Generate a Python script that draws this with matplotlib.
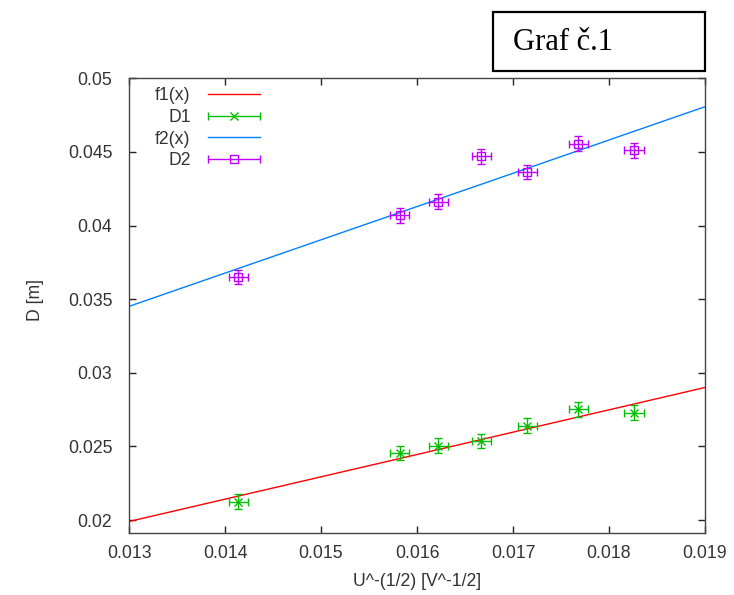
import numpy as np
import matplotlib
matplotlib.use("Agg")
import matplotlib.pyplot as plt
from matplotlib.patches import Rectangle
from matplotlib.legend_handler import HandlerErrorbar

# ---- data ----
x_vals = [0.01414, 0.01582, 0.01622, 0.01667, 0.01715, 0.01768, 0.01826]
d1_vals = [0.02124, 0.02456, 0.02504, 0.02536, 0.02642, 0.02751, 0.02728]
d2_vals = [0.03651, 0.04070, 0.04163, 0.04470, 0.04364, 0.04557, 0.04511]
x_err = 0.0001
y_err = 0.0005

# fitted lines f(x) = a*x + b
f1_a, f1_b = 1.517, 0.0199 - 1.517 * 0.013
f2_a, f2_b = 2.26, 0.03451 - 2.26 * 0.013

x_ticks = [0.013, 0.014, 0.015, 0.016, 0.017, 0.018, 0.019]
y_ticks = [0.02, 0.025, 0.03, 0.035, 0.04, 0.045, 0.05]

RED = "#ff0000"
GREEN = "#00c000"
BLUE = "#0080ff"
PURPLE = "#c000ff"

plt.rcParams["font.family"] = ["Liberation Sans", "DejaVu Sans"]

fig = plt.figure(figsize=(7.34, 5.95), dpi=100)
ax = fig.add_axes([129 / 734, 1 - 533 / 595, (705 - 129) / 734, (533 - 78.3) / 595])

xs = np.linspace(0.013, 0.019, 200)
l1, = ax.plot(xs, f1_a * xs + f1_b, color=RED, lw=1.0, label="f1(x)")
e1 = ax.errorbar(x_vals, d1_vals, xerr=x_err, yerr=y_err, fmt="x", color=GREEN,
                 ms=5.5, mew=1.0, elinewidth=1.0, capsize=2.6, capthick=1.0)
l2, = ax.plot(xs, f2_a * xs + f2_b, color=BLUE, lw=1.0, label="f2(x)")
e2 = ax.errorbar(x_vals, d2_vals, xerr=x_err, yerr=y_err, fmt="s", color=PURPLE,
                 mfc="none", ms=5.5, mew=1.0, elinewidth=1.0, capsize=2.6, capthick=1.0)

# legend proxies (horizontal bar only, like gnuplot)
p1 = ax.errorbar([np.nan], [np.nan], xerr=[0], fmt="x", color=GREEN, ms=5.5,
                 mew=1.0, elinewidth=1.0, capsize=2.6, capthick=1.0)
p2 = ax.errorbar([np.nan], [np.nan], xerr=[0], fmt="s", color=PURPLE, mfc="none",
                 ms=5.5, mew=1.0, elinewidth=1.0, capsize=2.6, capthick=1.0)

ax.set_xlim(0.013, 0.019)
ax.set_ylim(0.01912, 0.05)
ax.set_xticks(x_ticks)
ax.set_yticks(y_ticks)
ax.set_xticklabels([f"{t:g}" for t in x_ticks])
ax.set_yticklabels([f"{t:g}" for t in y_ticks])

ax.tick_params(direction="in", top=True, right=True, length=5, width=1.0,
               color="#222222", labelsize=12.7, labelcolor="#333333")
ax.tick_params(axis="x", pad=9)
ax.tick_params(axis="y", pad=12)
for s in ax.spines.values():
    s.set_color("#444444")
    s.set_linewidth(1.0)

fs = 12.7
leg = ax.legend([l1, p1, l2, p2], ["f1(x)", "D1", "f2(x)", "D2"],
                handler_map={type(p1): HandlerErrorbar(xerr_size=1.45, numpoints=1)},
                markerfirst=False, frameon=False, fontsize=fs, numpoints=1,
                handlelength=2.9, handletextpad=1.0, labelspacing=0.27,
                loc="upper left", bbox_to_anchor=(0.03, 1.0), borderaxespad=0.3,
                borderpad=0.2)
for t in leg.get_texts():
    t.set_color("#333333")
    t.set_ha("right")

fig.text(35 / 734, 1 - 300 / 595, "D [m]", rotation=90, ha="center", va="center",
         fontsize=fs, color="#333333")
fig.text(417 / 734, 1 - 581 / 595, "U^-(1/2) [V^-1/2]", ha="center", va="center",
         fontsize=fs, color="#333333")

# title box
fig.patches.append(Rectangle((493 / 734, 1 - 71 / 595), (705 - 493) / 734, (71 - 12) / 595,
                             transform=fig.transFigure, fill=False, edgecolor="black",
                             linewidth=1.6))
fig.text(513 / 734, 1 - 42 / 595, "Graf č.1", ha="left", va="center",
         fontsize=22, family=["Liberation Serif", "DejaVu Serif"], color="black")

fig.savefig("out.png", dpi=100)
